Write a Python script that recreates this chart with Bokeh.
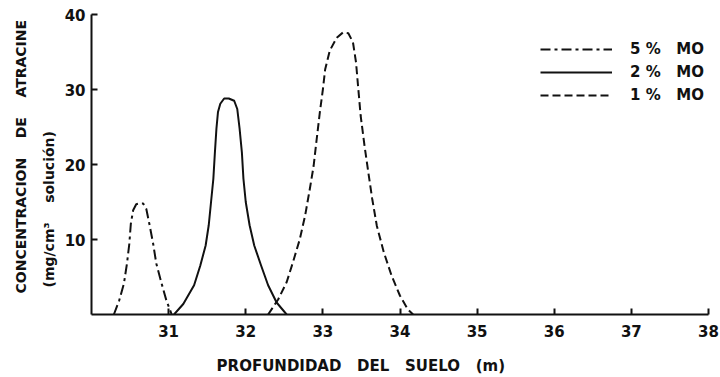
from bokeh.plotting import figure
from bokeh.models import Range1d, FixedTicker, Legend, LegendItem, Title
from bokeh.embed import file_html
from bokeh.resources import INLINE

# Atrazine concentration profiles vs. soil depth for three organic-matter levels
depth_5 = [30.29, 30.36, 30.42, 30.46, 30.49, 30.51, 30.54, 30.58, 30.62, 30.67, 30.71,
           30.75, 30.80, 30.84, 30.91, 30.97, 31.04]
conc_5 = [0.0, 1.9, 4.1, 6.8, 9.4, 12.1, 13.9, 14.7, 14.8, 14.8, 14.1,
          12.1, 9.4, 6.8, 4.1, 1.9, 0.0]

depth_2 = [31.07, 31.19, 31.33, 31.41, 31.48, 31.52, 31.55, 31.58, 31.60, 31.62, 31.64,
           31.67, 31.72, 31.78, 31.85, 31.89, 31.92, 31.95, 31.97, 32.00, 32.05, 32.11,
           32.20, 32.29, 32.40, 32.53]
conc_2 = [0.0, 1.4, 3.9, 6.5, 9.2, 11.9, 15.0, 18.1, 21.6, 24.8, 27.0,
          28.1, 28.8, 28.8, 28.5, 27.4, 24.8, 21.6, 18.1, 15.0, 11.9, 9.2,
          6.5, 3.9, 1.6, 0.0]

depth_1 = [32.29, 32.42, 32.53, 32.61, 32.70, 32.77, 32.83, 32.88, 32.92, 32.96, 33.00,
           33.03, 33.09, 33.18, 33.26, 33.33, 33.39, 33.43, 33.46, 33.49, 33.54, 33.59,
           33.64, 33.70, 33.79, 33.89, 34.00, 34.10, 34.17]
conc_1 = [0.0, 2.0, 4.3, 6.9, 10.0, 13.2, 16.7, 19.8, 23.4, 26.9, 30.0,
          32.7, 35.2, 36.9, 37.6, 37.5, 36.3, 33.6, 30.0, 26.5, 22.5, 18.9,
          15.4, 11.8, 8.3, 5.2, 2.5, 0.7, 0.0]

x_ticks = [31, 32, 33, 34, 35, 36, 37, 38]
y_ticks = [10, 20, 30, 40]
NB = "\u00a0"
series_labels = [f"5 %{NB * 3}MO", f"2 %{NB * 3}MO", f"1 %{NB * 3}MO"]
x_title = f"PROFUNDIDAD{NB * 3}DEL{NB * 3}SUELO{NB * 3}(m)"
y_title = f"CONCENTRACION{NB * 4}DE{NB * 4}ATRACINE"
y_units = f"(mg/cm\u00b3{NB * 4}solución)"

FONT = "DejaVu Sans"
INK = "#111111"

p = figure(width=720, height=377, output_backend="svg", toolbar_location=None,
           x_range=Range1d(30, 38), y_range=Range1d(0, 40),
           min_border_left=91, min_border_right=12, min_border_top=14, min_border_bottom=63)
p.outline_line_color = None
p.grid.grid_line_color = None
p.background_fill_color = "white"
p.border_fill_color = "white"

for ax in (p.xaxis[0], p.yaxis[0]):
    ax.axis_line_width = 2
    ax.axis_line_color = INK
    ax.major_tick_line_width = 2
    ax.major_tick_line_color = INK
    ax.major_tick_in = 6
    ax.major_tick_out = 0
    ax.minor_tick_line_color = None
    ax.major_label_text_font = FONT
    ax.major_label_text_font_style = "bold"
    ax.major_label_text_font_size = "15px"
    ax.major_label_text_color = INK

p.xaxis[0].ticker = FixedTicker(ticks=x_ticks)
p.yaxis[0].ticker = FixedTicker(ticks=y_ticks)
p.xaxis[0].major_label_standoff = 10
p.yaxis[0].major_label_standoff = 6

# x title drawn as the axis label; trailing no-break spaces pull it left of centre
p.xaxis[0].axis_label = x_title + NB * 15
p.xaxis[0].axis_label_standoff = 17
p.xaxis[0].axis_label_text_font = FONT
p.xaxis[0].axis_label_text_font_style = "bold"
p.xaxis[0].axis_label_text_font_size = "15px"
p.xaxis[0].axis_label_text_color = INK

r5 = p.line(depth_5, conc_5, line_width=2, line_color=INK, line_dash="10 4 3 4",
            line_join="round")
r2 = p.line(depth_2, conc_2, line_width=2, line_color=INK, line_join="round")
r1 = p.line(depth_1, conc_1, line_width=2, line_color=INK, line_dash="8 4",
            line_join="round")

legend = Legend(items=[LegendItem(label=series_labels[0], renderers=[r5]),
                       LegendItem(label=series_labels[1], renderers=[r2]),
                       LegendItem(label=series_labels[2], renderers=[r1])],
                location=(449, 209), orientation="vertical",
                glyph_width=72, glyph_height=20, label_height=20, label_standoff=18,
                spacing=3, padding=0, margin=0,
                border_line_color=None, background_fill_alpha=0,
                label_text_font=FONT, label_text_font_style="bold",
                label_text_font_size="15px", label_text_color=INK)
p.add_layout(legend, "center")

# y titles as side panels, offset from the frame's lower edge
title_kw = dict(text_font=FONT, text_font_style="bold", text_color=INK)
p.add_layout(Title(text=y_units, align="left", offset=27, text_font_size="14px",
                   standoff=10, **title_kw), "left")
p.add_layout(Title(text=y_title, align="left", offset=21, text_font_size="14px",
                   standoff=10, **title_kw), "left")

open("out.html", "w").write(file_html(p, INLINE))
